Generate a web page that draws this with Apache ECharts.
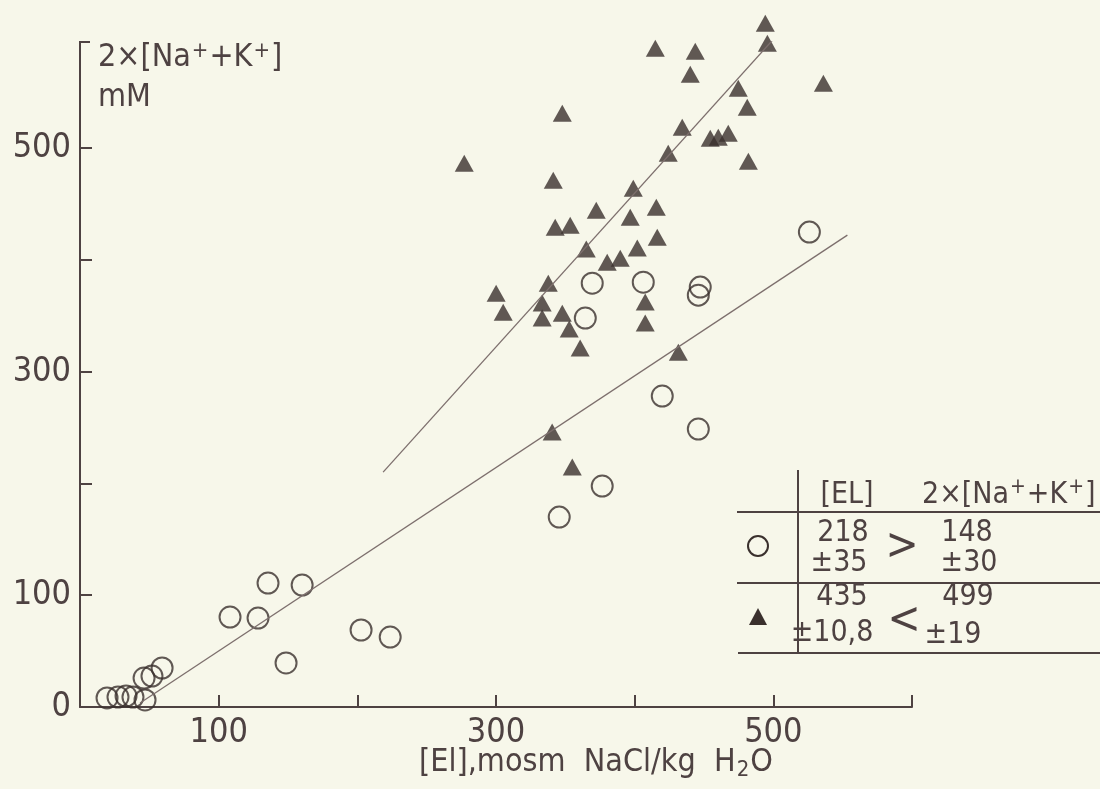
<!DOCTYPE html>
<html><head><meta charset="utf-8">
<script src="https://cdn.jsdelivr.net/npm/echarts@6/dist/echarts.min.js"></script>
<style>html,body{margin:0;padding:0;background:#f7f7ea;}#c{width:1100px;height:789px;}</style>
</head><body><div id="c"></div>
<script>
// Circles: [El] (x) and 2x[Na+K] (y)
const circleEl  = [19.5, 27.4, 33.2, 38.2, 46.9, 46.2, 51.9, 59.2, 108.2, 128.4, 135.6, 160.2, 148.6, 202.7, 223.7, 345.6, 376.6, 419.9, 445.9, 369.4, 406.2, 364.4, 447.3, 445.9, 526.0];
const circleNaK = [8.1, 8.9, 9.8, 8.9, 6.3, 25.9, 27.7, 34.9, 80.5, 79.6, 110.9, 109.1, 39.4, 68.9, 62.6, 169.9, 197.7, 278.2, 248.7, 379.2, 380.1, 348.0, 375.7, 368.5, 424.9];
// Triangles
const triEl  = [494.2, 495.7, 414.9, 443.7, 440.1, 536.1, 474.7, 347.8, 481.2, 434.3, 454.5, 460.3, 467.5, 277.1, 424.2, 482.0, 341.3, 399.0, 372.3, 415.6, 396.8, 342.7, 353.5, 416.3, 365.1, 401.9, 389.6, 380.2, 337.7, 300.1, 305.2, 333.3, 333.3, 347.8, 352.8, 360.7, 407.6, 407.6, 431.5, 340.5, 355.0];
const triNaK = [611.8, 593.9, 589.4, 586.8, 566.2, 558.1, 553.7, 531.3, 536.7, 518.8, 508.9, 509.8, 513.4, 486.6, 495.5, 488.4, 471.4, 464.2, 444.5, 447.2, 438.3, 429.3, 431.1, 420.4, 409.7, 410.6, 401.6, 398.0, 379.2, 370.3, 353.3, 361.4, 348.0, 352.4, 338.1, 321.1, 362.3, 343.5, 317.5, 246.0, 214.7];
// Regression lines (end points)
const circleFitEl  = [43.3, 553.4];
const circleFitNaK = [3.6, 422.2];
const triFitEl  = [218.6, 507.2];
const triFitNaK = [210.2, 607.3];
// Tick labels
const xTickLabels = [100, 300, 500];
const yTickLabels = [0, 100, 300, 500];
// Table texts
const tableHeader = ['[EL]', '2×[Na+K]'];
const circleStats = ['218', '±35', '>', '148', '±30'];
const triStats = ['435', '±10,8', '<', '499', '±19'];

const INK = '#4e4242';
const DARK = '#3a302d';
const FONT = "'Liberation Sans Narrow','DejaVu Sans Condensed',sans-serif";

const zip = (a, b) => a.map((v, i) => [v, b[i]]);

const chart = echarts.init(document.getElementById('c'), null, {renderer: 'canvas'});

function txt(text, x, y, size, align) {
  return {type: 'text', style: {text: text, x: x, y: y, fontSize: size, fontFamily: FONT, fill: INK, align: align || 'center', verticalAlign: 'middle'}};
}
function line(x1, y1, x2, y2) {
  return {type: 'line', shape: {x1: x1, y1: y1, x2: x2, y2: y2}, style: {stroke: INK, lineWidth: 2}};
}
function naK(x, y, size) {
  return {type: 'text', style: {
    text: '{a|2×[Na}{s|+}{a|+K}{s|+}{a|]}', x: x, y: y, align: 'left', verticalAlign: 'middle',
    rich: {
      a: {fontSize: size, fontFamily: FONT, fill: INK},
      s: {fontSize: Math.round(size * 0.7), fontFamily: FONT, fill: INK, padding: [0, 1, Math.round(size * 0.45), 1]}
    }
  }};
}

const option = {
  backgroundColor: '#f7f7ea',
  animation: false,
  grid: {left: 80, right: 188, top: 42, bottom: 82, containLabel: false},
  xAxis: {
    type: 'value', min: 0, max: 600, interval: 100,
    axisLine: {lineStyle: {color: INK, width: 2}},
    axisTick: {inside: true, length: 12, lineStyle: {color: INK, width: 2}},
    splitLine: {show: false},
    axisLabel: {margin: 9, fontSize: 34, fontFamily: FONT, color: INK,
      formatter: v => xTickLabels.includes(v) ? String(v) : ''}
  },
  yAxis: {
    type: 'value', min: 0, max: 595, interval: 100,
    axisLine: {lineStyle: {color: INK, width: 2}},
    axisTick: {inside: true, length: 12, lineStyle: {color: INK, width: 2}},
    splitLine: {show: false},
    axisLabel: {margin: 9, fontSize: 34, fontFamily: FONT, color: INK, showMaxLabel: false,
      formatter: v => yTickLabels.includes(v) ? String(v) : ''}
  },
  series: [
    {type: 'line', data: zip(circleFitEl, circleFitNaK), symbol: 'none', silent: true,
      lineStyle: {color: '#7d6f6d', width: 1.3}},
    {type: 'line', data: zip(triFitEl, triFitNaK), symbol: 'none', silent: true,
      lineStyle: {color: '#7d6f6d', width: 1.3}},
    {type: 'scatter', data: zip(circleEl, circleNaK), symbol: 'circle', symbolSize: 21, clip: false,
      itemStyle: {color: 'rgba(0,0,0,0)', borderColor: DARK, borderWidth: 2}},
    {type: 'scatter', data: zip(triEl, triNaK), symbol: 'triangle', symbolSize: [19, 17], clip: false,
      itemStyle: {color: DARK}}
  ],
  graphic: [
    line(79, 42, 90, 42),
    naK(98, 58, 32),
    txt('mM', 98, 98, 32, 'left'),
    {type: 'text', style: {text: '{a|[El],mosm  NaCl/kg  H}{b|2}{a|O}', x: 596, y: 763, align: 'center', verticalAlign: 'middle',
      rich: {a: {fontSize: 32, fontFamily: FONT, fill: INK}, b: {fontSize: 22, fontFamily: FONT, fill: INK, padding: [14, 1, 0, 1]}}}},
    // table lines
    line(798, 470, 798, 652),
    line(737, 512, 1100, 512),
    line(737, 583, 1100, 583),
    line(738, 653, 1100, 653),
    txt(tableHeader[0], 847, 495, 30),
    naK(922, 495, 30),
    {type: 'circle', shape: {cx: 758, cy: 546, r: 10}, style: {fill: 'none', stroke: DARK, lineWidth: 2}},
    {type: 'polygon', shape: {points: [[758, 608], [749, 625], [767, 625]]}, style: {fill: DARK}},
    txt(circleStats[0], 843, 533, 30),
    txt(circleStats[1], 839, 563, 30),
    txt(circleStats[2], 902, 548, 44),
    txt(circleStats[3], 967, 533, 30),
    txt(circleStats[4], 969, 563, 30),
    txt(triStats[0], 842, 597, 30),
    txt(triStats[1], 832, 633, 30),
    txt(triStats[2], 904, 622, 44),
    txt(triStats[3], 968, 597, 30),
    txt(triStats[4], 953, 635, 30)
  ]
};
chart.setOption(option);
</script>
</body></html>
